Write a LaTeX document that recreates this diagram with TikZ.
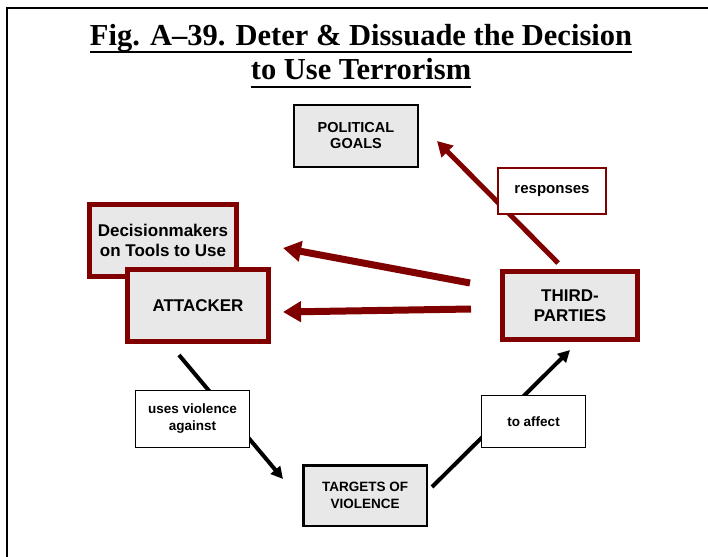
\documentclass[tikz,border=0pt]{standalone}
\usepackage{fontspec}
\setmainfont{Liberation Serif}
\newfontfamily\boxfont{Liberation Sans}
\usetikzlibrary{arrows.meta}
\definecolor{darkred}{RGB}{128,0,0}
\definecolor{boxgray}{RGB}{232,232,232}

\tikzset{
  graybox/.style={draw=black,fill=boxgray,line width=2pt,align=center,inner sep=0pt,
    font=\boxfont\bfseries\fontsize{14.5}{16}\selectfont},
  redbox/.style={draw=darkred,fill=boxgray,line width=5pt,align=center,inner sep=0pt,
    font=\boxfont\bfseries\fontsize{17}{20.5}\selectfont},
  labelbox/.style={draw=black,fill=white,line width=1.2pt,align=center,inner sep=0pt,
    font=\boxfont\bfseries\fontsize{13.5}{17}\selectfont},
  redlabel/.style={draw=darkred,fill=white,line width=2pt,align=center,inner sep=0pt,
    font=\boxfont\bfseries\fontsize{15}{17}\selectfont},
  blackarrow/.style={line width=4pt,-{Triangle[length=12pt,width=12pt]}},
  redarrow/.style={darkred,line width=7pt,-{Triangle[length=18pt,width=20pt]}},
}

\begin{document}
\begin{tikzpicture}[x=1pt,y=-1pt,line join=miter]
  \useasboundingbox (0,0) rectangle (708,556);
  \draw[line width=2.5pt] (7,600) -- (7,8) -- (720,8);

  % title
  \node[anchor=base,inner sep=0pt,font=\bfseries\fontsize{30.5}{34}\selectfont] (titleone) at (361,46) {Fig. A--39. Deter \& Dissuade the Decision};
  \node[anchor=base,inner sep=0pt,font=\bfseries\fontsize{30.5}{34}\selectfont] (titletwo) at (361,80) {to Use Terrorism};
  \draw[line width=2.2pt] ([yshift=-6pt]titleone.base west) -- ([yshift=-6pt]titleone.base east);
  \draw[line width=2.2pt] ([yshift=-7pt]titletwo.base west) -- ([yshift=-7pt]titletwo.base east);

  % arrow ends
  \coordinate (violfrom) at (179,355);
  \coordinate (violto) at (283,479);
  \coordinate (affectfrom) at (432,487);
  \coordinate (affectto) at (570,350);
  \coordinate (respfrom) at (558,263);
  \coordinate (respto) at (437,141);
  \coordinate (toolsfrom) at (470,283);
  \coordinate (toolsto) at (283,248);
  \coordinate (attfrom) at (471,309);
  \coordinate (attto) at (283,312);

  \draw[blackarrow] (violfrom) -- (violto);
  \draw[blackarrow] (affectfrom) -- (affectto);
  \draw[redarrow,line width=5pt,-{Triangle[length=15pt,width=16pt]}] (respfrom) -- (respto);
  \draw[redarrow] (toolsfrom) -- (toolsto);
  \draw[redarrow] (attfrom) -- (attto);

  % boxes
  \node[graybox,minimum width=124pt,minimum height=62pt] (goals) at (356,136) {POLITICAL\\GOALS};
  \node[redbox,minimum width=147pt,minimum height=72pt] (deciders) at (163,240.5) {Decisionmakers\\on Tools to Use};
  \node[redbox,minimum width=141pt,minimum height=72pt] (attacker) at (198,305.5) {ATTACKER};
  \node[redbox,minimum width=135pt,minimum height=68pt] (thirdparties) at (570,305.5) {THIRD-\\PARTIES};
  \node[graybox,line width=2.5pt,minimum width=123.5pt,minimum height=60.5pt,
    font=\boxfont\bfseries\fontsize{13.5}{16.5}\selectfont] (targets) at (365,495.5) {TARGETS OF\\VIOLENCE};

  % labels on the connectors
  \node[labelbox,minimum width=114pt,minimum height=57pt] (usesviolence) at (192.5,419) {uses violence\\against};
  \node[labelbox,minimum width=104pt,minimum height=52pt] (toaffect) at (533.5,421.5) {to affect};
  \node[redlabel,minimum width=108pt,minimum height=46pt] (responses) at (552,191) {responses};
\end{tikzpicture}
\end{document}
